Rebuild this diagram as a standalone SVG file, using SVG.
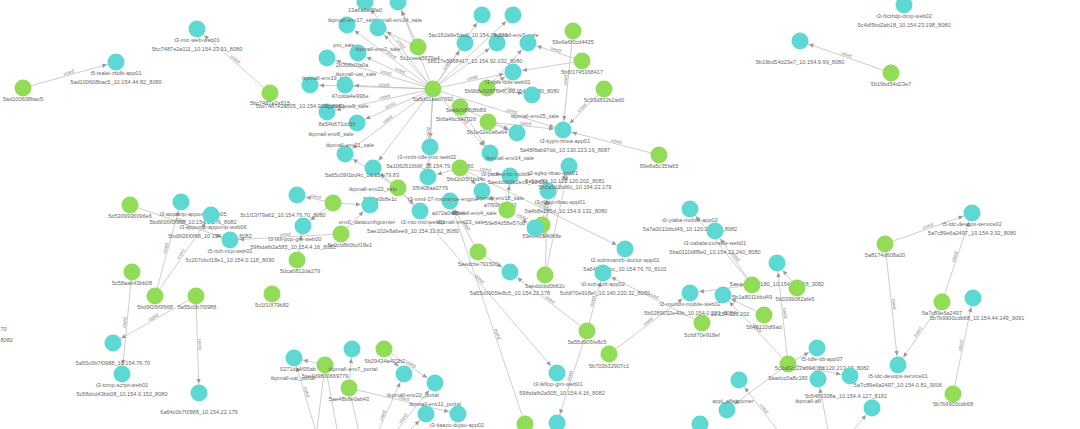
<svg xmlns="http://www.w3.org/2000/svg" width="1080" height="429" viewBox="0 0 1080 429">
<style>
.bg{fill:#ffffff}
#edges path{stroke:#b8b8b8;stroke-width:0.7;fill:none}
#edges path.ae{marker-end:url(#ah)}
#edges path.as{marker-start:url(#ah)}
#edges text{font-family:"Liberation Sans",Arial,sans-serif;font-size:5px;fill:#8a8a8a;text-anchor:middle}
.g circle{fill:#92dc58}
.c circle{fill:#5ed8d3}
.g text,.c text,.t text{font-family:"Liberation Sans",Arial,sans-serif;font-size:5.6px;fill:#6a6a6a;text-anchor:middle}
</style>
<defs>
<marker id="ah" viewBox="-16 -4 16 8" refX="0" refY="0" markerWidth="16" markerHeight="8" markerUnits="userSpaceOnUse" orient="auto-start-reverse" overflow="visible">
<path d="M-14,-2.2 L-9.5,0 L-14,2.2 z" fill="#9a9a9a"/>
</marker>
</defs>
<rect class="bg" width="1080" height="429"/>
<g id="edges">
<path id="e1" class="ae" d="M23,88 L116,62"/>
<path id="e2" class="as" d="M197,29 L270,93"/>
<path id="e3" class="as" d="M365,2 L433,89"/>
<path id="e4" class="as" d="M398,2 L433,89"/>
<path id="e5" class="as" d="M347,25 L433,89"/>
<path id="e6" class="as" d="M378,28 L433,89"/>
<path id="e7" class="as" d="M327,58 L433,89"/>
<path id="e8" class="as" d="M358,53 L433,89"/>
<path id="e9" class="as" d="M310,85 L433,89"/>
<path id="e10" class="as" d="M345,85 L433,89"/>
<path id="e11" class="as" d="M327,112 L433,89"/>
<path id="e12" class="as" d="M357,123 L433,89"/>
<path id="e13" class="ae" d="M433,89 L482,15"/>
<path id="e14" class="ae" d="M433,89 L465,43"/>
<path id="e15" class="ae" d="M433,89 L497,43"/>
<path id="e16" class="ae" d="M433,89 L513,72"/>
<path id="e17" class="as" d="M430,147 L433,89"/>
<path id="e18" class="as" d="M345,154 L433,89"/>
<path id="e19" class="as" d="M373,168 L433,89"/>
<path id="e20" class="as" d="M428,177 L433,89"/>
<path id="e21" class="ae" d="M433,89 L490,153"/>
<path id="e22" class="ae" d="M433,89 L563,130"/>
<path id="e23" class="ae" d="M433,89 L513,15"/>
<path id="e24" class="as" d="M378,28 L418,47"/>
<path id="e25" class="as" d="M398,2 L418,47"/>
<path id="e26" class="ae" d="M487,88 L528,43"/>
<path id="e27" class="ae" d="M487,88 L532,95"/>
<path id="e28" class="ae" d="M487,88 L513,72"/>
<path id="e29" class="ae" d="M460,107 L517,133"/>
<path id="e30" class="ae" d="M460,107 L490,153"/>
<path id="e31" class="ae" d="M488,122 L563,130"/>
<path id="e32" class="ae" d="M488,122 L517,133"/>
<path id="e33" class="as" d="M563,130 L573,31"/>
<path id="e34" class="as" d="M528,43 L582,61"/>
<path id="e35" class="as" d="M513,72 L582,61"/>
<path id="e36" class="as" d="M563,130 L604,89"/>
<path id="e37" class="as" d="M563,130 L659,155"/>
<path id="e38" class="ae" d="M460,168 L625,249"/>
<path id="e39" class="as" d="M428,177 L460,168"/>
<path id="e40" class="ae" d="M460,168 L482,191"/>
<path id="e41" class="ae" d="M460,168 L510,176"/>
<path id="e42" class="as" d="M373,168 L398,188"/>
<path id="e43" class="as" d="M345,154 L398,188"/>
<path id="e44" class="ae" d="M398,188 L420,211"/>
<path id="e45" class="ae" d="M398,188 L557,373"/>
<path id="e46" class="as" d="M297,195 L333,203"/>
<path id="e47" class="ae" d="M333,203 L370,205"/>
<path id="e48" class="as" d="M303,226 L333,203"/>
<path id="e49" class="ae" d="M341,234 L370,205"/>
<path id="e50" class="as" d="M230,240 L341,234"/>
<path id="e51" class="ae" d="M297,260 L303,226"/>
<path id="e52" class="ae" d="M507,210 L535,228"/>
<path id="e53" class="as" d="M482,191 L507,210"/>
<path id="e54" class="ae" d="M507,210 L510,176"/>
<path id="e55" class="ae" d="M542,225 L548,191"/>
<path id="e56" class="ae" d="M545,275 L548,191"/>
<path id="e57" class="ae" d="M545,275 L569,166"/>
<path id="e58" class="as" d="M450,201 L478,252"/>
<path id="e59" class="ae" d="M478,252 L510,272"/>
<path id="e60" class="as" d="M450,201 L525,424"/>
<path id="e61" class="ae" d="M542,225 L569,166"/>
<path id="e62" class="as" d="M715,231 L752,285"/>
<path id="e63" class="as" d="M690,209 L752,285"/>
<path id="e64" class="as" d="M777,263 L788,364"/>
<path id="e65" class="as" d="M723,295 L788,364"/>
<path id="e66" class="ae" d="M788,364 L817,348"/>
<path id="e67" class="ae" d="M788,364 L850,376"/>
<path id="e68" class="ae" d="M587,331 L603,273"/>
<path id="e69" class="as" d="M510,272 L587,331"/>
<path id="e70" class="as" d="M557,423 L587,331"/>
<path id="e71" class="ae" d="M609,354 L690,293"/>
<path id="e72" class="as" d="M603,273 L702,323"/>
<path id="e73" class="as" d="M723,295 L764,315"/>
<path id="e74" class="as" d="M777,263 L797,288"/>
<path id="e75" class="as" d="M690,293 L752,285"/>
<path id="e76" class="as" d="M739,380 L785,440"/>
<path id="e77" class="as" d="M727,410 L788,364"/>
<path id="e78" class="as" d="M818,379 L830,440"/>
<path id="e79" class="ae" d="M845,440 L872,408"/>
<path id="e80" class="ae" d="M885,244 L972,213"/>
<path id="e81" class="ae" d="M885,244 L898,365"/>
<path id="e82" class="as" d="M898,365 L942,302"/>
<path id="e83" class="ae" d="M942,302 L972,213"/>
<path id="e84" class="ae" d="M953,394 L973,298"/>
<path id="e85" class="as" d="M800,41 L891,73"/>
<path id="e86" class="ae" d="M130,205 L230,240"/>
<path id="e87" class="ae" d="M155,296 L181,202"/>
<path id="e88" class="ae" d="M155,296 L211,215"/>
<path id="e89" class="as" d="M122,374 L132,272"/>
<path id="e90" class="as" d="M113,343 L196,296"/>
<path id="e91" class="ae" d="M196,296 L199,393"/>
<path id="e92" class="ae" d="M349,388 L352,349"/>
<path id="e93" class="ae" d="M349,388 L458,414"/>
<path id="e94" class="ae" d="M384,349 L435,383"/>
<path id="e95" class="ae" d="M384,349 L404,374"/>
<path id="e96" class="as" d="M294,358 L325,365"/>
<path id="e97" class="as" d="M294,358 L320,445"/>
<path id="e98" class="ae" d="M372,445 L404,374"/>
<path id="e99" class="ae" d="M385,445 L435,383"/>
<path id="e100" class="ae" d="M395,445 L426,414"/>
<path id="e101" class="as" d="M315,445 L325,365"/>
<path id="e102" class="ae" d="M325,365 L340,445"/>
<path id="e103" class="ae" d="M349,388 L362,445"/>
<text dy="-1"><textPath href="#e1" startOffset="50%">used</textPath></text>
<text dy="-1"><textPath href="#e2" startOffset="50%">used</textPath></text>
<text dy="-1"><textPath href="#e3" startOffset="50%">used</textPath></text>
<text dy="-1"><textPath href="#e5" startOffset="50%">used</textPath></text>
<text dy="-1"><textPath href="#e7" startOffset="55%">used</textPath></text>
<text dy="-1"><textPath href="#e8" startOffset="55%">used</textPath></text>
<text dy="-1"><textPath href="#e9" startOffset="60%">used</textPath></text>
<text dy="-1"><textPath href="#e11" startOffset="55%">used</textPath></text>
<text dy="-1"><textPath href="#e12" startOffset="45%">used</textPath></text>
<text dy="-1"><textPath href="#e14" startOffset="50%">used</textPath></text>
<text dy="-1"><textPath href="#e16" startOffset="50%">used</textPath></text>
<text dy="-1"><textPath href="#e18" startOffset="50%">used</textPath></text>
<text dy="-1"><textPath href="#e20" startOffset="50%">used</textPath></text>
<text dy="-1"><textPath href="#e21" startOffset="50%">used</textPath></text>
<text dy="-1"><textPath href="#e22" startOffset="60%">used</textPath></text>
<text dy="-1"><textPath href="#e27" startOffset="50%">used</textPath></text>
<text dy="-1"><textPath href="#e29" startOffset="50%">used</textPath></text>
<text dy="-1"><textPath href="#e31" startOffset="50%">used</textPath></text>
<text dy="-1"><textPath href="#e33" startOffset="50%">used</textPath></text>
<text dy="-1"><textPath href="#e34" startOffset="50%">used</textPath></text>
<text dy="-1"><textPath href="#e36" startOffset="50%">used</textPath></text>
<text dy="-1"><textPath href="#e37" startOffset="55%">used</textPath></text>
<text dy="-1"><textPath href="#e38" startOffset="50%">used</textPath></text>
<text dy="-1"><textPath href="#e41" startOffset="50%">used</textPath></text>
<text dy="-1"><textPath href="#e43" startOffset="50%">used</textPath></text>
<text dy="-1"><textPath href="#e45" startOffset="50%">used</textPath></text>
<text dy="-1"><textPath href="#e46" startOffset="50%">used</textPath></text>
<text dy="-1"><textPath href="#e50" startOffset="50%">used</textPath></text>
<text dy="-1"><textPath href="#e52" startOffset="50%">used</textPath></text>
<text dy="-1"><textPath href="#e56" startOffset="50%">used</textPath></text>
<text dy="-1"><textPath href="#e58" startOffset="50%">used</textPath></text>
<text dy="-1"><textPath href="#e60" startOffset="60%">used</textPath></text>
<text dy="-1"><textPath href="#e62" startOffset="50%">used</textPath></text>
<text dy="-1"><textPath href="#e64" startOffset="50%">used</textPath></text>
<text dy="-1"><textPath href="#e65" startOffset="50%">used</textPath></text>
<text dy="-1"><textPath href="#e67" startOffset="50%">used</textPath></text>
<text dy="-1"><textPath href="#e68" startOffset="50%">used</textPath></text>
<text dy="-1"><textPath href="#e69" startOffset="50%">used</textPath></text>
<text dy="-1"><textPath href="#e70" startOffset="50%">used</textPath></text>
<text dy="-1"><textPath href="#e71" startOffset="50%">used</textPath></text>
<text dy="-1"><textPath href="#e72" startOffset="50%">used</textPath></text>
<text dy="-1"><textPath href="#e76" startOffset="50%">used</textPath></text>
<text dy="-1"><textPath href="#e80" startOffset="50%">used</textPath></text>
<text dy="-1"><textPath href="#e81" startOffset="50%">used</textPath></text>
<text dy="-1"><textPath href="#e82" startOffset="50%">used</textPath></text>
<text dy="-1"><textPath href="#e83" startOffset="50%">used</textPath></text>
<text dy="-1"><textPath href="#e84" startOffset="50%">used</textPath></text>
<text dy="-1"><textPath href="#e85" startOffset="50%">used</textPath></text>
<text dy="-1"><textPath href="#e86" startOffset="50%">used</textPath></text>
<text dy="-1"><textPath href="#e87" startOffset="50%">used</textPath></text>
<text dy="-1"><textPath href="#e88" startOffset="50%">used</textPath></text>
<text dy="-1"><textPath href="#e89" startOffset="50%">used</textPath></text>
<text dy="-1"><textPath href="#e90" startOffset="50%">used</textPath></text>
<text dy="-1"><textPath href="#e91" startOffset="50%">used</textPath></text>
<text dy="-1"><textPath href="#e93" startOffset="50%">used</textPath></text>
<text dy="-1"><textPath href="#e94" startOffset="50%">used</textPath></text>
<text dy="-1"><textPath href="#e98" startOffset="40%">used</textPath></text>
<text dy="-1"><textPath href="#e99" startOffset="40%">used</textPath></text>
<text dy="-1"><textPath href="#e97" startOffset="40%">used</textPath></text>
</g>
<g id="n1" class="g"><circle cx="23" cy="88" r="8.5"/><text x="23" y="101">5ad100608bac5</text></g>
<g id="n2" class="c"><circle cx="116" cy="62" r="8.5"/><text x="116" y="75">t5-tsalei-zbdb-app01</text><text x="116" y="84">5ad100608bac5_10.154.44.82_8080</text></g>
<g id="n3" class="c"><circle cx="197" cy="29" r="8.5"/><text x="197" y="42">t3-mic-web-web01</text><text x="197" y="51">5bc7487e2a111_10.154.23.91_8080</text></g>
<g id="n4" class="g"><circle cx="270" cy="93" r="8.5"/><text x="270" y="105">5bc7487e2a515</text></g>
<g id="n6" class="c"><circle cx="365" cy="2" r="8.5"/><text x="365" y="12">13a6a0a0ffa0</text></g>
<g id="n7" class="c"><circle cx="398" cy="2" r="8.5"/><text x="398" y="22">tkpmall-env24_sale</text></g>
<g id="n8" class="c"><circle cx="347" cy="25" r="8.5"/><text x="352" y="22">tkpmall-env17_sale</text></g>
<g id="n9" class="c"><circle cx="378" cy="28" r="8.5"/></g>
<g id="n10" class="g"><circle cx="418" cy="47" r="8.5"/><text x="420" y="60">5c1ceea5879e4</text></g>
<g id="n11" class="c"><circle cx="327" cy="58" r="8.5"/><text x="344" y="47">pro_sale</text></g>
<g id="n12" class="c"><circle cx="358" cy="53" r="8.5"/><text x="378" y="51">tkpmall-env2_sale</text><text x="352" y="67">2d358b0fa0a</text></g>
<g id="n13" class="c"><circle cx="310" cy="85" r="8.5"/><text x="326" y="80">tkpmall-env19_sale</text></g>
<g id="n14" class="c"><circle cx="345" cy="85" r="8.5"/><text x="356" y="76">tkpmall-uat_sale</text><text x="350" y="98">47cdda4e996e</text></g>
<g id="n15" class="c"><circle cx="327" cy="112" r="8.5"/><text x="300" y="108">5bc7487e2a505_10.154.92.1_8080</text><text x="346" y="108">tkpmall-env9_sale</text></g>
<g id="n16" class="c"><circle cx="357" cy="123" r="8.5"/><text x="337" y="126">8a54b671dc95</text><text x="331" y="136">tkpmall-env8_sale</text></g>
<g id="n17" class="c"><circle cx="482" cy="15" r="8.5"/></g>
<g id="n18" class="c"><circle cx="513" cy="15" r="8.5"/></g>
<g id="n19" class="c"><circle cx="465" cy="43" r="8.5"/><text x="468" y="37">5ac162a6e5de0_10.154.28.220</text></g>
<g id="n20" class="c"><circle cx="497" cy="43" r="8.5"/><text x="516" y="37">tkpmall-env3_sale</text></g>
<g id="n21" class="c"><circle cx="528" cy="43" r="8.5"/></g>
<g id="n22" class="c"><circle cx="513" cy="72" r="8.5"/><text x="475" y="63">5b617e5368417_10.154.92.032_8080</text></g>
<g id="n23" class="g"><circle cx="487" cy="88" r="8.5"/><text x="508" y="84">t1-tbfe-tbfe-web01</text><text x="512" y="93">5b9b8e52876e6_10.154.23.180_8080</text></g>
<g id="n24" class="c"><circle cx="532" cy="95" r="8.5"/><text x="535" y="118">tkpmall-env25_sale</text></g>
<g id="n25" class="g"><circle cx="460" cy="107" r="8.5"/><text x="466" y="112">5ea6cb8808b89</text><text x="456" y="121">5b6a4bcbe7026</text></g>
<g id="n26" class="g"><circle cx="488" cy="122" r="8.5"/><text x="487" y="134">5b1e02e0a6eb4</text></g>
<g id="n27" class="c"><circle cx="517" cy="133" r="8.5"/></g>
<g id="n28" class="c"><circle cx="430" cy="147" r="8.5"/></g>
<g id="n5" class="g"><circle cx="433" cy="89" r="8.5"/><text x="433" y="101">5a5d01aab7692</text></g>
<g id="n29" class="g"><circle cx="573" cy="31" r="8.5"/><text x="573" y="44">59e6a6f0cd4435</text></g>
<g id="n30" class="g"><circle cx="582" cy="61" r="8.5"/><text x="582" y="74">5b6f1745368417</text></g>
<g id="n31" class="g"><circle cx="604" cy="89" r="8.5"/><text x="604" y="102">5c93d832b2ad0</text></g>
<g id="n32" class="c"><circle cx="563" cy="130" r="8.5"/><text x="565" y="143">t3-kypn-hirea-app01</text><text x="565" y="152">5a48f8ab97dd_10.130.223.19_8087</text></g>
<g id="n33" class="g"><circle cx="659" cy="155" r="8.5"/><text x="659" y="168">59e8a5c35fa65</text></g>
<g id="n34" class="c"><circle cx="569" cy="166" r="8.5"/><text x="553" y="175">t3-sgkq-ribao-app01</text><text x="565" y="183">5a1aa50_10.120.120.202_8081</text></g>
<g id="n35" class="c"><circle cx="548" cy="191" r="8.5"/><text x="575" y="189">5b2a3d2bd6c_10.154.22.179</text><text x="560" y="204">t3-ribao-ribao-app01</text><text x="566" y="213">5a4b8e2ff5d_10.154.9.132_8080</text></g>
<g id="n36" class="g"><circle cx="542" cy="225" r="8.5"/><text x="542" y="238">59e84d5f4068e</text></g>
<g id="n37" class="c"><circle cx="345" cy="154" r="8.5"/><text x="350" y="147">tkpmall-env21_sale</text></g>
<g id="n38" class="c"><circle cx="373" cy="168" r="8.5"/><text x="362" y="177">5a65c09f1bd4c_10.154.79.83</text></g>
<g id="n39" class="c"><circle cx="428" cy="177" r="8.5"/><text x="427" y="159">t3-mnhi-tdfe-mic-web02</text><text x="430" y="168">5a1062510b9f_10.154.79.83_8080</text><text x="430" y="190">3f5408aa0779</text></g>
<g id="n40" class="g"><circle cx="460" cy="168" r="8.5"/><text x="466" y="181">5bd2c05f1bd4c</text></g>
<g id="n41" class="c"><circle cx="490" cy="153" r="8.5"/><text x="510" y="160">tkpmall-env14_sale</text></g>
<g id="n42" class="c"><circle cx="510" cy="176" r="8.5"/><text x="506" y="176">t3-paomu-ttc-mobile</text><text x="518" y="184">5aedcbb0b2ec6_10.154</text></g>
<g id="n43" class="c"><circle cx="482" cy="191" r="8.5"/><text x="500" y="200">tkpmall-env18_sale</text><text x="500" y="207">a7f93b99940</text></g>
<g id="n44" class="g"><circle cx="398" cy="188" r="8.5"/><text x="373" y="191">tkpmall-env22_sale</text><text x="380" y="201">5ce9a0b8e1c</text></g>
<g id="n45" class="c"><circle cx="297" cy="195" r="8.5"/></g>
<g id="n46" class="g"><circle cx="333" cy="203" r="8.5"/></g>
<g id="n47" class="c"><circle cx="370" cy="205" r="8.5"/><text x="367" y="224">env0_dataconfigcenter</text></g>
<g id="n48" class="c"><circle cx="450" cy="201" r="8.5"/><text x="443" y="201">t3-mnd-17-insurance-engine</text><text x="448" y="215">ad72a0486ef</text></g>
<g id="n49" class="c"><circle cx="420" cy="211" r="8.5"/><text x="423" y="224">t3-mic-mic-web01</text><text x="413" y="233">5ae102e8a6ee9_10.154.32.62_8080</text></g>
<g id="n50" class="g"><circle cx="507" cy="210" r="8.5"/><text x="474" y="215">tkpmall-env4_sale</text><text x="461" y="224">tkpmall-env23_sale</text><text x="505" y="225">59e84d58e57od</text></g>
<g id="n51" class="c"><circle cx="535" cy="228" r="8.5"/></g>
<g id="n52" class="c"><circle cx="303" cy="226" r="8.5"/><text x="283" y="217">5c1f13f79a62_10.154.76.70_8080</text><text x="295" y="241">t3-tkfl-pop-grv-web00</text><text x="293" y="249">59fbdafb2a585_10.154.4.16_8082</text></g>
<g id="n53" class="g"><circle cx="341" cy="234" r="8.5"/><text x="350" y="247">5e0cb8b0bcf18e1</text></g>
<g id="n54" class="g"><circle cx="297" cy="260" r="8.5"/><text x="300" y="273">5dca0812da279</text></g>
<g id="n55" class="g"><circle cx="478" cy="252" r="8.5"/><text x="478" y="266">5aedcbe791500</text></g>
<g id="n56" class="c"><circle cx="510" cy="272" r="8.5"/><text x="510" y="295">5a55c0905fe8c5_10.154.22.178</text></g>
<g id="n58" class="g"><circle cx="545" cy="275" r="8.5"/><text x="545" y="288">5aeddcbd0b62c</text></g>
<g id="n59" class="c"><circle cx="625" cy="249" r="8.5"/><text x="625" y="262">t2-tcdnmanzb-doctor-app02</text><text x="625" y="271">5a6458f55cc_10.154.76.70_8101</text></g>
<g id="n60" class="c"><circle cx="603" cy="273" r="8.5"/><text x="603" y="286">t0-tozl-coft-app02</text><text x="605" y="295">5cfdf70e918ef_10.140.220.32_8080</text></g>
<g id="n61" class="c"><circle cx="690" cy="209" r="8.5"/><text x="690" y="222">t0-yiaba-mobile-app02</text><text x="690" y="231">5a7a0011bbd49_10.120.208.17_8082</text></g>
<g id="n62" class="c"><circle cx="715" cy="231" r="8.5"/><text x="715" y="245">t3-cabala-console-web01</text><text x="715" y="254">5ba0110dff8e0_10.154.22.240_8080</text></g>
<g id="n63" class="c"><circle cx="777" cy="263" r="8.5"/><text x="777" y="286">5aeaecde8c180_10.154.25.128_3082</text></g>
<g id="n64" class="g"><circle cx="752" cy="285" r="8.5"/><text x="752" y="299">5b1a8011bbd49</text></g>
<g id="n65" class="g"><circle cx="797" cy="288" r="8.5"/><text x="795" y="301">5b0299082afe5</text></g>
<g id="n66" class="c"><circle cx="690" cy="293" r="8.5"/><text x="690" y="306">t2-mundiv-mobile-web02</text><text x="690" y="315">5b0289032e40b_10.154.0.220_8084</text></g>
<g id="n67" class="c"><circle cx="723" cy="295" r="8.5"/><text x="730" y="316">10.154.128.202</text></g>
<g id="n68" class="g"><circle cx="702" cy="323" r="8.5"/><text x="702" y="337">5cfdf70e918ef</text></g>
<g id="n69" class="g"><circle cx="764" cy="315" r="8.5"/><text x="764" y="329">5b46110df9ad</text></g>
<g id="n70" class="g"><circle cx="587" cy="331" r="8.5"/><text x="587" y="344">5a55d905fe8c5</text></g>
<g id="n71" class="g"><circle cx="609" cy="354" r="8.5"/><text x="609" y="368">5b703b32907c1</text></g>
<g id="n72" class="g"><circle cx="788" cy="364" r="8.5"/><text x="788" y="380">5aadcc0a8c180</text></g>
<g id="n73" class="c"><circle cx="557" cy="373" r="8.5"/><text x="558" y="386">t3-tkflop-gim-web01</text><text x="562" y="395">59fbdafb2a505_10.154.4.16_8082</text></g>
<g id="n74" class="c"><circle cx="739" cy="380" r="8.5"/></g>
<g id="n75" class="c"><circle cx="727" cy="410" r="8.5"/><text x="733" y="403">appl_affaircomer</text></g>
<g id="n76" class="c"><circle cx="700" cy="424" r="8.5"/></g>
<g id="n77" class="c"><circle cx="557" cy="423" r="8.5"/></g>
<g id="n78" class="c"><circle cx="817" cy="348" r="8.5"/><text x="822" y="361">t5-tdfe-ttb-app07</text><text x="822" y="370">5c3a82c22a09d_10.120.213.19_8082</text></g>
<g id="n79" class="c"><circle cx="818" cy="379" r="8.5"/><text x="808" y="403">tkpmall-aff</text></g>
<g id="n80" class="c"><circle cx="850" cy="376" r="8.5"/><text x="846" y="398">5c5480308a_10.154.4.127_8182</text></g>
<g id="n81" class="c"><circle cx="872" cy="408" r="8.5"/></g>
<g id="n83" class="c"><circle cx="972" cy="213" r="8.5"/><text x="972" y="226">t5-tdc-devops-service02</text><text x="972" y="235">5a7c89e6a2497_10.154.3.92_8080</text></g>
<g id="n84" class="g"><circle cx="885" cy="244" r="8.5"/><text x="885" y="257">5a8174d608a20</text></g>
<g id="n85" class="g"><circle cx="942" cy="302" r="8.5"/><text x="942" y="315">5a7c89e6a2497</text></g>
<g id="n86" class="c"><circle cx="973" cy="298" r="8.5"/><text x="977" y="320">5b7b9900cdb68_10.154.44.149_9091</text></g>
<g id="n87" class="c"><circle cx="898" cy="365" r="8.5"/><text x="898" y="378">t5-tdc-devops-service01</text><text x="898" y="387">5a7c89e6a2497_10.154.0.81_9006</text></g>
<g id="n88" class="g"><circle cx="953" cy="394" r="8.5"/><text x="953" y="406">5b7b9900cdb68</text></g>
<g id="n89" class="c"><circle cx="904" cy="5" r="8.5"/><text x="904" y="18">t3-rlicthdp-dmp-web02</text><text x="904" y="27">5c4df5bd2ab18_10.154.23.198_8080</text></g>
<g id="n90" class="c"><circle cx="800" cy="41" r="8.5"/><text x="800" y="64">5b19bd54d23e7_10.154.9.99_8080</text></g>
<g id="n91" class="g"><circle cx="891" cy="73" r="8.5"/><text x="891" y="86">5b19bd54d23e7</text></g>
<g id="n92" class="g"><circle cx="130" cy="205" r="8.5"/><text x="130" y="218">5d5309936096e6</text></g>
<g id="n93" class="c"><circle cx="181" cy="202" r="8.5"/><text x="193" y="216">t3-appomp-appomp-web05</text><text x="193" y="224">5bd9f26f0f968_10.154.0.176_8082</text></g>
<g id="n94" class="c"><circle cx="211" cy="215" r="8.5"/><text x="213" y="229">t3-appomp-appomp-web06</text><text x="210" y="238">5bd9f26f0f68_10.154.0.113_8082</text></g>
<g id="n95" class="c"><circle cx="230" cy="240" r="8.5"/><text x="230" y="253">t5-rich-ricp-web01</text><text x="230" y="262">5c207cbcf18e1_10.154.0.118_8090</text></g>
<g id="n96" class="g"><circle cx="132" cy="272" r="8.5"/><text x="132" y="285">5c58aab43bb08</text></g>
<g id="n97" class="g"><circle cx="155" cy="296" r="8.5"/><text x="155" y="309">5bd9f26f0f968</text></g>
<g id="n98" class="g"><circle cx="196" cy="296" r="8.5"/><text x="197" y="309">5a55c0b7f0988</text></g>
<g id="n99" class="c"><circle cx="113" cy="343" r="8.5"/><text x="113" y="365">5a55c0b7f0988_10.154.76.70</text></g>
<g id="n100" class="c"><circle cx="122" cy="374" r="8.5"/><text x="122" y="387">t3-tcmp-script-web01</text><text x="122" y="396">5c58dcd43bb08_10.154.0.152_8080</text></g>
<g id="n101" class="c"><circle cx="199" cy="393" r="8.5"/><text x="199" y="414">6a64c0b7f0988_10.154.22.179</text></g>
<g id="n102" class="g"><circle cx="272" cy="294" r="8.5"/><text x="272" y="307">5c1f10f79b82</text></g>
<g id="t0" class="t"><text x="0.5" y="331" style="text-anchor:start">70</text><text x="0.5" y="342" style="text-anchor:start">8082</text></g>
<g id="n103" class="c"><circle cx="294" cy="358" r="8.5"/><text x="298" y="371">0271da4f05ab</text><text x="293" y="380">tkpmall-uat_portal</text></g>
<g id="n104" class="g"><circle cx="325" cy="365" r="8.5"/><text x="325" y="378">5ae4d9800669779</text></g>
<g id="n105" class="c"><circle cx="352" cy="349" r="8.5"/><text x="353" y="371">tkpmall-env7_portal</text></g>
<g id="n106" class="g"><circle cx="384" cy="349" r="8.5"/><text x="385" y="363">5b29434a423b2</text></g>
<g id="n107" class="g"><circle cx="349" cy="388" r="8.5"/><text x="349" y="401">5ae48b8e0ab43</text></g>
<g id="n108" class="c"><circle cx="404" cy="374" r="8.5"/></g>
<g id="n109" class="c"><circle cx="435" cy="383" r="8.5"/><text x="413" y="397">tkpmall-env22_portal</text></g>
<g id="n110" class="c"><circle cx="426" cy="414" r="8.5"/><text x="435" y="406">tkpmall-env11_portal</text></g>
<g id="n111" class="c"><circle cx="458" cy="414" r="8.5"/><text x="457" y="427">t3-tiaaco-dujsu-app02</text></g>
<g id="n112" class="g"><circle cx="525" cy="424" r="8.5"/></g>
</svg>
